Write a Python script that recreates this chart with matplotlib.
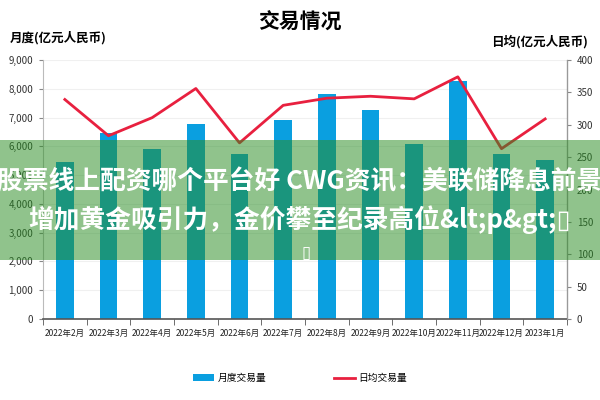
import matplotlib
matplotlib.use('Agg')
import matplotlib.pyplot as plt
from matplotlib.patches import Rectangle, Patch
from matplotlib.lines import Line2D

plt.rcParams['font.family'] = ['Noto Sans CJK SC', 'DejaVu Sans']

months = ['2022年2月', '2022年3月', '2022年4月', '2022年5月', '2022年6月', '2022年7月',
          '2022年8月', '2022年9月', '2022年10月', '2022年11月', '2022年12月', '2023年1月']
monthly = [5440, 6470, 5900, 6760, 5730, 6930, 7810, 7250, 6090, 8260, 5750, 5530]
daily = [339, 283, 311, 356, 272, 330, 341, 344, 340, 374, 263, 309]

blue = '#0a9fe0'
red = '#e8203f'

fig = plt.figure(figsize=(6, 4), dpi=100)
ax = fig.add_axes([0.0717, 0.2025, 0.8733, 0.6475])
x = list(range(len(months)))
ax.bar(x, monthly, width=0.4, color=blue, zorder=2)
ax.set_xlim(-0.5, len(months) - 0.5)
ax.set_ylim(0, 9000)
ax.set_yticks(range(0, 9001, 1000))
ax.set_yticklabels(['{:,}'.format(v) for v in range(0, 9001, 1000)], fontsize=7, color='#333333')
ax.grid(axis='y', color='#f0f0f0', lw=0.8, zorder=0)
ax.set_xticks(x)
ax.set_xticklabels(months, fontsize=6.1, color='#222222')
ax.tick_params(axis='x', length=0, pad=7)
ax.set_xticks([i - 0.5 for i in range(len(months) + 1)], minor=True)
ax.tick_params(axis='x', which='minor', length=4, color='#555555')
ax.tick_params(axis='y', length=3, color='#888888', pad=4)
ax.spines['top'].set_visible(False)
ax.spines['left'].set_color('#bbbbbb')
ax.spines['bottom'].set_color('#555555')
ax.spines['bottom'].set_linewidth(1.2)

ax2 = ax.twinx()
ax2.plot(x, daily, color=red, lw=2, zorder=3)
ax2.set_ylim(0, 400)
ax2.set_yticks(range(0, 401, 50))
ax2.set_yticklabels([str(v) for v in range(0, 401, 50)], fontsize=7, color='#333333')
ax2.tick_params(axis='y', length=3, color='#888888', pad=4)
ax2.spines['top'].set_visible(False)
ax2.spines['left'].set_visible(False)
ax2.spines['bottom'].set_visible(False)
ax2.spines['right'].set_color('#999999')

fig.text(0.5, 0.945, '交易情况', ha='center', va='center', fontsize=15, fontweight='bold')
fig.text(0.017, 0.905, '月度(亿元人民币)', ha='left', va='center', fontsize=9, fontweight='bold')
fig.text(0.98, 0.895, '日均(亿元人民币)', ha='right', va='center', fontsize=9, fontweight='bold')

handles = [Patch(facecolor=blue), Line2D([0], [0], color=red, lw=2)]
fig.legend(handles, ['月度交易量', '日均交易量'], loc='center', bbox_to_anchor=(0.5, 0.055),
           ncol=2, frameon=False, fontsize=7, columnspacing=7, handlelength=2.2, handleheight=0.6,
           handletextpad=0.3)

# overlay banner
fig.patches.append(Rectangle((0, 0.35), 1, 0.3, transform=fig.transFigure,
                             facecolor=(42 / 255, 141 / 255, 35 / 255), alpha=0.52, zorder=10))
fig.text(0.5, 0.545, '股票线上配资哪个平台好 CWG资讯：美联储降息前景', ha='center', va='center',
         fontsize=18.5, fontweight='bold', color='white', zorder=11)
fig.text(0.5, 0.45, '增加黄金吸引力，金价攀至纪录高位&lt;p&gt;▯', ha='center', va='center',
         fontsize=18.5, fontweight='bold', color='white', zorder=11)
fig.text(0.503, 0.368, '▯', ha='left', va='center', fontsize=12, color='white', zorder=11,
         family=['DejaVu Sans'])

fig.savefig('out.png', dpi=100)
